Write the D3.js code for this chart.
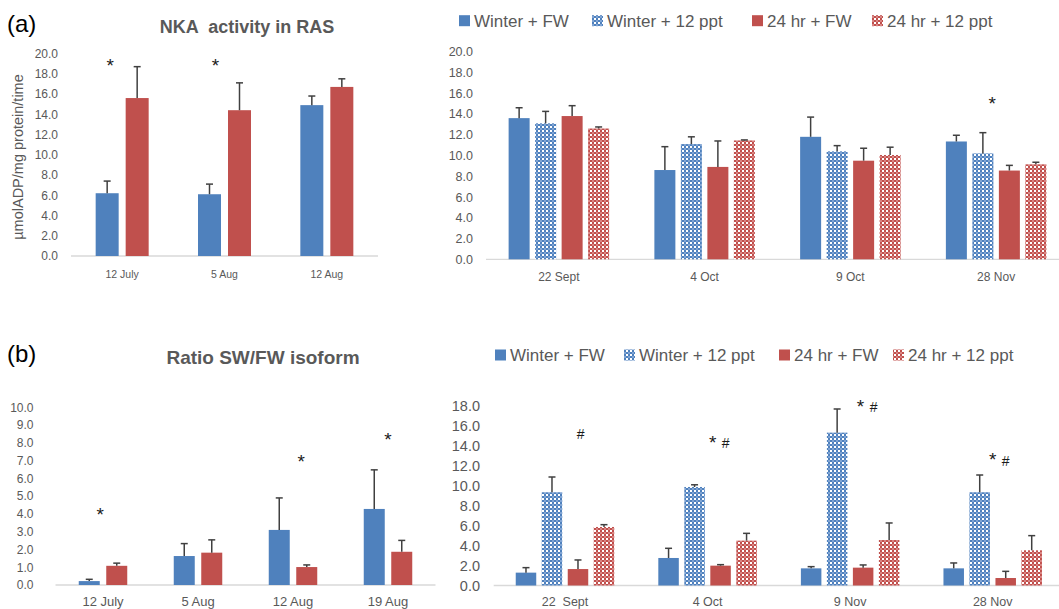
<!DOCTYPE html>
<html>
<meta charset="utf-8">
<head>
<style>
  body { margin: 0; background: #fff; }
  text { font-family: "Liberation Sans", Arial, sans-serif; }
  .tick text { fill: #595959; }
  .title { fill: #595959; font-weight: bold; white-space: pre; }
  .legend text { fill: #595959; }
  .panel-tag { fill: #000; }
  .mark { fill: #1a1a1a; }
</style>
</head>
<body>
<div id="chart"></div>
<script src="https://cdn.jsdelivr.net/npm/d3@7"></script>
<script>
// ---- data ----
const nkaSummerDates = ["12 July", "5 Aug", "12 Aug"];
const nkaSummerBlue = [6.2, 6.1, 14.9];
const nkaSummerBlueErr = [1.2, 1.0, 0.9];
const nkaSummerRed = [15.6, 14.4, 16.7];
const nkaSummerRedErr = [3.1, 2.7, 0.8];

const nkaWinterDates = ["22 Sept", "4 Oct", "9 Oct", "28 Nov"];
const nkaWinterFW = [13.6, 8.6, 11.8, 11.35];
const nkaWinterFWErr = [1.0, 2.25, 1.9, 0.6];
const nkaWinter12 = [13.1, 11.1, 10.4, 10.2];
const nkaWinter12Err = [1.15, 0.7, 0.55, 2.0];
const nka24FW = [13.8, 8.9, 9.5, 8.55];
const nka24FWErr = [1.0, 2.5, 1.2, 0.5];
const nka2412 = [12.6, 11.45, 10.05, 9.15];
const nka2412Err = [0.15, 0.05, 0.75, 0.2];

const ratioSummerDates = ["12 July", "5 Aug", "12 Aug", "19 Aug"];
const ratioSummerBlue = [0.22, 1.63, 3.1, 4.28];
const ratioSummerBlueErr = [0.1, 0.7, 1.8, 2.2];
const ratioSummerRed = [1.08, 1.82, 1.01, 1.87];
const ratioSummerRedErr = [0.15, 0.72, 0.12, 0.64];

const ratioWinterDates = ["22  Sept", "4 Oct", "9 Nov", "28 Nov"];
const ratioWinterFW = [1.29, 2.76, 1.72, 1.72];
const ratioWinterFWErr = [0.5, 0.97, 0.17, 0.54];
const ratioWinter12 = [9.35, 9.88, 15.33, 9.35];
const ratioWinter12Err = [1.53, 0.22, 2.37, 1.73];
const ratio24FW = [1.65, 1.99, 1.79, 0.75];
const ratio24FWErr = [0.91, 0.1, 0.27, 0.67];
const ratio2412 = [5.87, 4.5, 4.56, 3.53];
const ratio2412Err = [0.23, 0.73, 1.71, 1.47];

const legendLabels = ["Winter + FW", "Winter + 12 ppt", "24 hr + FW", "24 hr + 12 ppt"];

// significance marks: category, symbol, level (y units), slot (bar position)
const nkaSummerMarks = [["12 July", "*", 19.3, 0.1], ["5 Aug", "*", 19.3, 0.2]];
const nkaWinterMarks = [["28 Nov", "*", 15.4, 1.35]];
const ratioSummerMarks = [["12 July", "*", 4.2, 0.4], ["12 Aug", "*", 7.2, 0.8], ["19 Aug", "*", 8.45, 0.5]];
const ratioWinterMarks = [
  ["22  Sept", "#", 15.2, 2.1],
  ["4 Oct", "*", 14.75, 1.7], ["4 Oct", "#", 14.3, 2.2],
  ["9 Nov", "*", 18.4, 1.9], ["9 Nov", "#", 17.9, 2.4],
  ["28 Nov", "*", 13.1, 1.5], ["28 Nov", "#", 12.5, 2.0]
];

const blue = "#4f81bd";
const red = "#c0504d";

const W = 1059, H = 609;
const svg = d3.select("#chart").append("svg")
  .attr("width", W).attr("height", H);

// dotted fills for the 12 ppt series
const defs = svg.append("defs");
function dotPattern(id, base, light) {
  const p = defs.append("pattern").attr("id", id)
    .attr("patternUnits", "userSpaceOnUse").attr("width", 4).attr("height", 4);
  p.append("rect").attr("width", 4).attr("height", 4).attr("fill", base);
  p.append("rect").attr("x", 0).attr("y", 0).attr("width", 2).attr("height", 2).attr("fill", light);
  p.append("rect").attr("x", 2).attr("y", 2).attr("width", 2).attr("height", 2).attr("fill", "#fff");
}
dotPattern("bluePat", blue, "#80a4d4");
dotPattern("redPat", red, "#d98583");

const winterFills = [blue, "url(#bluePat)", red, "url(#redPat)"];

function panel(cfg) {
  const g = svg.append("g");
  const x = d3.scaleBand().domain(cfg.dates).range([cfg.x0, cfg.x1]);
  const y = d3.scaleLinear().domain([0, cfg.ymax]).range([cfg.yBase, cfg.yTop]);
  const n = cfg.series.length;
  const slot = d3.scalePoint().domain(d3.range(n))
    .range([-(n - 1) / 2 * cfg.step, (n - 1) / 2 * cfg.step]);

  // y tick labels only (no axis line)
  const yAxis = d3.axisLeft(y)
    .tickValues(d3.range(0, cfg.ymax + 0.001, cfg.tickStep))
    .tickFormat(d3.format(".1f"))
    .tickSize(0).tickPadding(0);
  g.append("g").attr("transform", `translate(${cfg.labelRight},0)`)
    .call(yAxis)
    .call(a => a.select(".domain").remove())
    .selectAll("text").style("font-size", cfg.yFont + "px");

  // baseline
  g.append("line")
    .attr("x1", cfg.x0).attr("x2", Math.min(cfg.x1, W))
    .attr("y1", y(0)).attr("y2", y(0))
    .attr("stroke", "#d9d9d9").attr("stroke-width", 1.3);

  const xAxis = d3.axisBottom(x).tickSize(0)
    .tickPadding(cfg.xLabelY - 0.35 * cfg.xFont - cfg.yBase);
  g.append("g").attr("transform", `translate(0,${cfg.yBase})`)
    .call(xAxis)
    .call(a => a.select(".domain").remove())
    .selectAll("text").style("font-size", cfg.xFont + "px").style("white-space", "pre");

  cfg.series.forEach((s, i) => {
    const groups = g.append("g");
    const rows = cfg.dates.map((d, j) => ({ d, v: s.values[j], e: s.err[j] }));
    groups.selectAll("rect").data(rows).join("rect")
      .attr("x", r => x(r.d) + x.bandwidth() / 2 + slot(i) - cfg.barW / 2)
      .attr("width", cfg.barW)
      .attr("y", r => y(r.v))
      .attr("height", r => y(0) - y(r.v))
      .attr("fill", s.fill);
    const eb = groups.selectAll("g.err").data(rows).join("g").attr("class", "err")
      .attr("transform", r => `translate(${x(r.d) + x.bandwidth() / 2 + slot(i)},0)`);
    eb.append("line").attr("x1", 0).attr("x2", 0)
      .attr("y1", r => y(r.v)).attr("y2", r => y(r.v + r.e))
      .attr("stroke", "#404040").attr("stroke-width", 1.5);
    eb.append("line").attr("x1", -3.5).attr("x2", 3.5)
      .attr("y1", r => y(r.v + r.e)).attr("y2", r => y(r.v + r.e))
      .attr("stroke", "#404040").attr("stroke-width", 1.5);
  });

  const slotX = d3.scaleLinear().domain([0, n - 1]).range([slot(0), slot(n - 1)]);
  g.selectAll("text.mark").data(cfg.marks).join("text")
    .attr("class", "mark")
    .attr("x", m => x(m[0]) + x.bandwidth() / 2 + slotX(m[3]))
    .attr("y", m => y(m[2]) + (m[1] === "*" ? 11 : 5))
    .attr("text-anchor", "middle")
    .style("font-size", m => m[1] === "*" ? "19px" : "14px")
    .text(m => m[1]);

  return { x, y };
}

function legend(xs, cy) {
  const lg = svg.append("g").attr("class", "legend");
  legendLabels.forEach((lab, i) => {
    lg.append("rect").attr("x", xs[i]).attr("y", cy - 5.5)
      .attr("width", 11).attr("height", 11).attr("fill", winterFills[i]);
    lg.append("text").attr("x", xs[i] + 15).attr("y", cy + 6)
      .style("font-size", "17px").text(lab);
  });
}

// (a) NKA activity
svg.append("text").attr("class", "panel-tag").attr("x", 7).attr("y", 31.5)
  .style("font-size", "24px").text("(a)");
svg.append("text").attr("class", "title").attr("x", 247).attr("y", 33)
  .attr("text-anchor", "middle").style("font-size", "18px").text("NKA  activity in RAS");
svg.append("text").attr("transform", "translate(18,157) rotate(-90)")
  .attr("text-anchor", "middle").attr("dy", "0.35em")
  .style("font-size", "14.5px").style("fill", "#595959")
  .text("µmolADP/mg protein/time");

panel({
  dates: nkaSummerDates, x0: 71, x1: 378, yBase: 256, yTop: 53.5, ymax: 20, tickStep: 2,
  labelRight: 58, yFont: 12, xFont: 10.5, xLabelY: 274, barW: 23, step: 30,
  series: [
    { values: nkaSummerBlue, err: nkaSummerBlueErr, fill: blue },
    { values: nkaSummerRed, err: nkaSummerRedErr, fill: red }
  ],
  marks: nkaSummerMarks
});

legend([459, 592, 752, 872], 20.7);
panel({
  dates: nkaWinterDates, x0: 486, x1: 1069, yBase: 259.3, yTop: 51.7, ymax: 20, tickStep: 2,
  labelRight: 473, yFont: 12.5, xFont: 12, xLabelY: 276.2, barW: 21, step: 26.5,
  series: [
    { values: nkaWinterFW, err: nkaWinterFWErr, fill: winterFills[0] },
    { values: nkaWinter12, err: nkaWinter12Err, fill: winterFills[1] },
    { values: nka24FW, err: nka24FWErr, fill: winterFills[2] },
    { values: nka2412, err: nka2412Err, fill: winterFills[3] }
  ],
  marks: nkaWinterMarks
});

// (b) SW/FW isoform ratio
svg.append("text").attr("class", "panel-tag").attr("x", 7).attr("y", 361.5)
  .style("font-size", "24px").text("(b)");
svg.append("text").attr("class", "title").attr("x", 263).attr("y", 363.5)
  .attr("text-anchor", "middle").style("font-size", "19px").text("Ratio SW/FW isoform");

panel({
  dates: ratioSummerDates, x0: 55.5, x1: 435.5, yBase: 585, yTop: 407.3, ymax: 10, tickStep: 1,
  labelRight: 33.5, yFont: 12, xFont: 13, xLabelY: 601.3, barW: 21, step: 27.5,
  series: [
    { values: ratioSummerBlue, err: ratioSummerBlueErr, fill: blue },
    { values: ratioSummerRed, err: ratioSummerRedErr, fill: red }
  ],
  marks: ratioSummerMarks
});

legend([495, 624, 779, 893], 355);
panel({
  dates: ratioWinterDates, x0: 493.7, x1: 1064, yBase: 585.5, yTop: 406, ymax: 18, tickStep: 2,
  labelRight: 480, yFont: 14.5, xFont: 12.5, xLabelY: 601, barW: 20.5, step: 26,
  series: [
    { values: ratioWinterFW, err: ratioWinterFWErr, fill: winterFills[0] },
    { values: ratioWinter12, err: ratioWinter12Err, fill: winterFills[1] },
    { values: ratio24FW, err: ratio24FWErr, fill: winterFills[2] },
    { values: ratio2412, err: ratio2412Err, fill: winterFills[3] }
  ],
  marks: ratioWinterMarks
});
</script>
</body>
</html>
